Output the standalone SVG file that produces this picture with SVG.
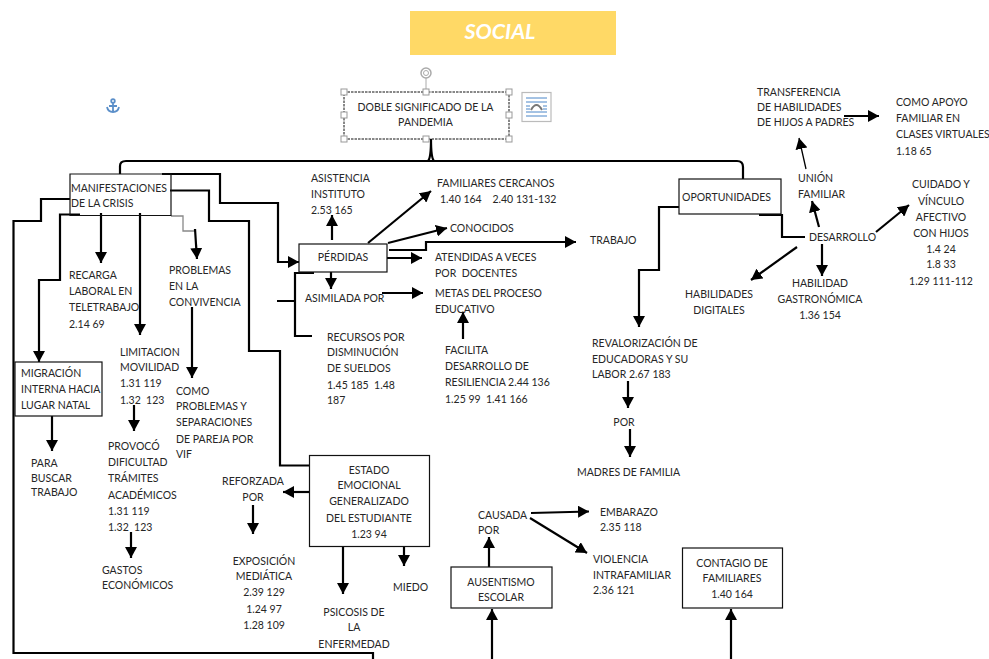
<svg xmlns="http://www.w3.org/2000/svg" width="989" height="659" viewBox="0 0 989 659">
<style>
text{font-family:"Lato","Carlito","Liberation Sans",sans-serif;font-size:10.5px;fill:#262626}
.m{text-anchor:middle}
.b{fill:#fff;stroke:#111;stroke-width:1.2}
.c{fill:none;stroke:#000;stroke-width:2.2}
.a{marker-end:url(#h)}
.t{stroke-width:1.3}
.h{fill:#fff;stroke:#999;stroke-width:1}
</style>
<defs>
<marker id="h" markerUnits="userSpaceOnUse" markerWidth="13" markerHeight="12" refX="11" refY="6" orient="auto"><path d="M0 0L11 6L0 12Z" fill="#000"/></marker>
</defs>
<rect width="989" height="659" fill="#fff"/>
<g id="connectors">
<path class="c" d="M120 174V166Q120 161 126 161H737Q743 161 743 167V179"/>
<path class="c" d="M431 139Q431 158 428 161M431 139Q431 158 434 161"/>
<path class="c" d="M70 199H41V221H13.500V653H373V659"/>
<path class="c a" d="M80 214.500H60V280H39V362"/>
<path class="c a" d="M101 213V263"/>
<path class="c a" d="M140 213V335"/>
<path d="M171 216H183V231H195" fill="none" stroke="#888" stroke-width="1.300"/>
<path class="c a" d="M195 229L197 259"/>
<path class="c a" d="M192 307V378"/>
<path class="c a" d="M162 174H220V203H278V262H299"/>
<path class="c" d="M170 190.500H209V221H249V351H280V465.500H310"/>
<path class="c a" d="M52 416V451"/>
<path class="c a" d="M134 405V431"/>
<path class="c a" d="M131 532V558"/>
<path class="c a" d="M310 492H283"/>
<path class="c a" d="M253 505V534"/>
<path class="c a" d="M343 546V594"/>
<path class="c a" d="M404 546V566"/>
<path class="c a" d="M332 240V215"/>
<path class="c a" d="M368 243L431 191"/>
<path class="c a" d="M388 243L447 228"/>
<path class="c a" d="M389 250H426V242H576"/>
<path class="c a" d="M387 258H422"/>
<path class="c a" d="M331 269V289"/>
<path class="c a" d="M382 293H423"/>
<path class="c a" d="M463 339V312"/>
<path class="c" d="M314 273H295V336H312M277 301H295"/>
<path class="c a" d="M679 207H659V270H639V327"/>
<path class="c" d="M759 215H782V237H805"/>
<path class="c a" d="M819 227L812 201"/>
<path class="c a t" d="M806 169L799 138"/>
<path class="c a" d="M844 116H879"/>
<path class="c a" d="M876 232L909 205"/>
<path class="c a" d="M822 244V276"/>
<path class="c a" d="M797 247L751 280"/>
<path class="c a" d="M628 381V408"/>
<path class="c a" d="M630 429V457"/>
<path class="c a" d="M531 513L589 511.500"/>
<path class="c a" d="M530 518L587 553"/>
<path class="c a" d="M489 567V537"/>
<path class="c a" d="M492 659V609"/>
<path class="c a" d="M731 659V609"/>
</g>
<g id="social"><rect x="410" y="11" width="206" height="44" fill="#ffd966"/><text x="500" y="39" class="m" style="font-size:21.500px;font-weight:700;font-style:italic;fill:#fff">SOCIAL</text></g>
<g id="anchor" fill="none" stroke="#5b8fc9" stroke-width="1.800"><circle cx="113" cy="101" r="1.800"/><path d="M113 103V112M109 106H117M107 107Q108 112 113 112Q118 112 119 107"/></g>
<g id="doble">
<rect x="344" y="92" width="165" height="47" fill="#fff" stroke="#111" stroke-width="1" stroke-dasharray="2.500 1"/>
<path d="M426 78V92" stroke="#aaa" fill="none"/>
<circle cx="426" cy="73" r="5" fill="none" stroke="#aaa" stroke-width="1.500"/><circle cx="426" cy="73" r="2.500" fill="none" stroke="#aaa"/>
<rect class="h" x="341" y="89" width="6" height="6"/><rect class="h" x="423" y="89" width="6" height="6"/><rect class="h" x="506" y="89" width="6" height="6"/><rect class="h" x="341" y="112" width="6" height="6"/><rect class="h" x="506" y="112" width="6" height="6"/><rect class="h" x="341" y="136" width="6" height="6"/><rect class="h" x="423" y="136" width="6" height="6"/><rect class="h" x="506" y="136" width="6" height="6"/>
<text class="m" x="425.500" y="111">DOBLE SIGNIFICADO DE LA</text><text class="m" x="425.500" y="126">PANDEMIA</text>
</g>
<g id="layout-icon"><rect x="522" y="92.500" width="29" height="29" fill="#fff" stroke="#bbb" stroke-width="1.200"/><path d="M526 98H547M526 102H547M526 112H547M526 116H547" stroke="#4a86c8" stroke-width="1"/><path d="M526 106H530M543 106H547M526 109H530M543 109H547" stroke="#4a86c8"/><path d="M531 110Q536.500 100 542 110" fill="none" stroke="#777" stroke-width="2"/></g>
<g id="manifestaciones"><path d="M70 174H171V215.500H70Z" fill="none" stroke="#111" stroke-width="1.200"/><text x="71" y="192">MANIFESTACIONES</text><text x="71" y="207">DE LA CRISIS</text></g>
<g id="recarga"><text x="69" y="279">RECARGA</text><text x="69" y="295">LABORAL EN</text><text x="69" y="311">TELETRABAJO</text><text x="69" y="328">2.14 69</text></g>
<g id="problemas"><text x="169" y="274">PROBLEMAS</text><text x="169" y="290">EN LA</text><text x="169" y="306">CONVIVENCIA</text></g>
<g id="limitacion"><text x="120" y="356">LIMITACION</text><text x="120" y="371">MOVILIDAD</text><text x="120" y="387">1.31 119</text><text x="120" y="404" xml:space="preserve">1.32  123</text></g>
<g id="como"><text x="176" y="395">COMO</text><text x="176" y="410">PROBLEMAS Y</text><text x="176" y="426">SEPARACIONES</text><text x="176" y="443">DE PAREJA POR</text><text x="176" y="458">VIF</text></g>
<g id="migracion"><rect class="b" x="15" y="362" width="87" height="54"/><text x="21" y="377">MIGRACIÓN</text><text x="21" y="393">INTERNA HACIA</text><text x="21" y="409">LUGAR NATAL</text></g>
<g id="para"><text x="31" y="467">PARA</text><text x="31" y="482">BUSCAR</text><text x="31" y="496">TRABAJO</text></g>
<g id="provoco"><text x="108" y="450">PROVOCÓ</text><text x="108" y="466">DIFICULTAD</text><text x="108" y="482">TRÁMITES</text><text x="108" y="499">ACADÉMICOS</text><text x="108" y="515">1.31 119</text><text x="108" y="531" xml:space="preserve">1.32  123</text></g>
<g id="gastos"><text x="102" y="574">GASTOS</text><text x="102" y="589">ECONÓMICOS</text></g>
<g id="reforzada"><text class="m" x="253" y="485">REFORZADA</text><text class="m" x="253" y="501">POR</text></g>
<g id="exposicion"><text class="m" x="264" y="565">EXPOSICIÓN</text><text class="m" x="264" y="580">MEDIÁTICA</text><text class="m" x="264" y="596">2.39 129</text><text class="m" x="264" y="613">1.24 97</text><text class="m" x="264" y="629">1.28 109</text></g>
<g id="estado"><rect class="b" x="309.500" y="455.500" width="120" height="91"/><text class="m" x="369" y="474">ESTADO</text><text class="m" x="369" y="489">EMOCIONAL</text><text class="m" x="369" y="505">GENERALIZADO</text><text class="m" x="369" y="522">DEL ESTUDIANTE</text><text class="m" x="369" y="538">1.23 94</text></g>
<g id="psicosis"><text class="m" x="354" y="616">PSICOSIS DE</text><text class="m" x="354" y="631">LA</text><text class="m" x="354" y="648">ENFERMEDAD</text></g>
<g id="miedo"><text x="393" y="591">MIEDO</text></g>
<g id="asistencia"><text x="311" y="182">ASISTENCIA</text><text x="311" y="198">INSTITUTO</text><text x="311" y="214">2.53 165</text></g>
<g id="perdidas"><rect class="b" x="299" y="244" width="88" height="28"/><text class="m" x="343" y="261">PÉRDIDAS</text></g>
<g id="familiares"><text x="437" y="187">FAMILIARES CERCANOS</text><text x="440" y="203" xml:space="preserve">1.40 164    2.40 131-132</text></g>
<g id="conocidos"><text x="450" y="232">CONOCIDOS</text></g>
<g id="trabajo"><text x="590" y="244">TRABAJO</text></g>
<g id="atendidas"><text x="435" y="261">ATENDIDAS A VECES</text><text x="435" y="277" xml:space="preserve">POR  DOCENTES</text></g>
<g id="asimilada"><text x="305" y="302">ASIMILADA POR</text></g>
<g id="metas"><text x="435" y="297">METAS DEL PROCESO</text><text x="435" y="313">EDUCATIVO</text></g>
<g id="recursos"><text x="327" y="341">RECURSOS POR</text><text x="327" y="356">DISMINUCIÓN</text><text x="327" y="372">DE SUELDOS</text><text x="327" y="389" xml:space="preserve">1.45 185  1.48</text><text x="327" y="404">187</text></g>
<g id="facilita"><text x="445" y="354">FACILITA</text><text x="445" y="370">DESARROLLO DE</text><text x="445" y="386">RESILIENCIA 2.44 136</text><text x="445" y="403" xml:space="preserve">1.25 99  1.41 166</text></g>
<g id="oportunidades"><rect class="b" x="679" y="179" width="102" height="35"/><text x="682" y="201">OPORTUNIDADES</text></g>
<g id="transferencia"><text x="757" y="96">TRANSFERENCIA</text><text x="757" y="111">DE HABILIDADES</text><text x="757" y="126">DE HIJOS A PADRES</text></g>
<g id="apoyo"><text x="896" y="106">COMO APOYO</text><text x="896" y="122">FAMILIAR EN</text><text x="896" y="138">CLASES VIRTUALES</text><text x="896" y="155">1.18 65</text></g>
<g id="union"><text x="798" y="182">UNIÓN</text><text x="798" y="198">FAMILIAR</text></g>
<g id="desarrollo"><text x="809" y="241">DESARROLLO</text></g>
<g id="cuidado"><text class="m" x="941" y="188">CUIDADO Y</text><text class="m" x="941" y="205">VÍNCULO</text><text class="m" x="941" y="221">AFECTIVO</text><text class="m" x="941" y="237">CON HIJOS</text><text class="m" x="941" y="253">1.4 24</text><text class="m" x="941" y="268">1.8 33</text><text class="m" x="941" y="285">1.29 111-112</text></g>
<g id="digitales"><text class="m" x="719" y="298">HABILIDADES</text><text class="m" x="719" y="314">DIGITALES</text></g>
<g id="gastronomica"><text class="m" x="820" y="287">HABILIDAD</text><text class="m" x="820" y="303">GASTRONÓMICA</text><text class="m" x="820" y="319">1.36 154</text></g>
<g id="revalorizacion"><text x="592" y="347">REVALORIZACIÓN DE</text><text x="592" y="363">EDUCADORAS Y SU</text><text x="592" y="378">LABOR 2.67 183</text></g>
<g id="por"><text class="m" x="624" y="426">POR</text></g>
<g id="madres"><text x="577" y="476">MADRES DE FAMILIA</text></g>
<g id="causada"><text x="478" y="519">CAUSADA</text><text x="478" y="534">POR</text></g>
<g id="embarazo"><text x="600" y="516">EMBARAZO</text><text x="600" y="531">2.35 118</text></g>
<g id="violencia"><text x="593" y="563">VIOLENCIA</text><text x="593" y="579">INTRAFAMILIAR</text><text x="593" y="594">2.36 121</text></g>
<g id="ausentismo"><rect class="b" x="451" y="567" width="101" height="41"/><text class="m" x="501" y="586">AUSENTISMO</text><text class="m" x="501" y="601">ESCOLAR</text></g>
<g id="contagio"><rect class="b" x="682.500" y="548" width="100" height="60"/><text class="m" x="732" y="567">CONTAGIO DE</text><text class="m" x="732" y="582">FAMILIARES</text><text class="m" x="732" y="598">1.40 164</text></g>
</svg>
